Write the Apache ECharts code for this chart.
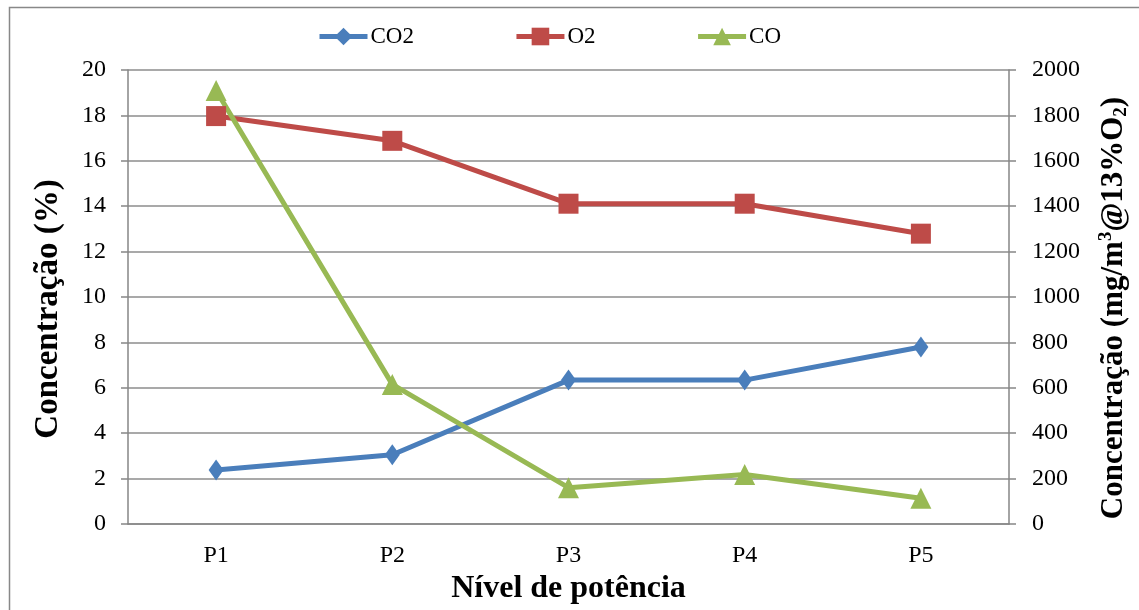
<!DOCTYPE html>
<html>
<head>
<meta charset="utf-8">
<script src="https://cdn.jsdelivr.net/npm/echarts@6/dist/echarts.min.js"></script>
<style>html,body{margin:0;padding:0;background:#fff;overflow:hidden;}#c{width:1139px;height:610px;}</style>
</head>
<body>
<div id="c"></div>
<script>
const categories = ['P1', 'P2', 'P3', 'P4', 'P5'];
const co2 = [2.38, 3.05, 6.34, 6.34, 7.8];
const o2 = [17.97, 16.88, 14.11, 14.11, 12.79];
const co = [1910, 615, 160, 218, 113];
const leftTicks = { min: 0, max: 20, interval: 2 };
const rightTicks = { min: 0, max: 2000, interval: 200 };

const FONT = '"Liberation Serif", "Times New Roman", serif';
const chart = echarts.init(document.getElementById('c'), null, { width: 1139, height: 610 });
const axisLineStyle = { color: '#868686', width: 1.5 };
chart.setOption({
  backgroundColor: '#fff',
  animation: false,
  textStyle: { fontFamily: FONT },
  graphic: [{
    type: 'rect', shape: { x: 9.5, y: 7.5, width: 1140, height: 620 },
    style: { fill: 'none', stroke: '#888', lineWidth: 1.5 }, silent: true, z: -1
  }],
  legend: {
    top: 20, left: 312, itemGap: 100, itemWidth: 48, itemHeight: 22,
    lineStyle: { width: 5 },
    textStyle: { fontFamily: FONT, fontSize: 23, color: '#000', padding: [0, 0, 0, -2] },
    data: ['CO2', 'O2', 'CO']
  },
  grid: { left: 128, top: 70, width: 883, height: 454, containLabel: false },
  xAxis: {
    type: 'category', data: categories, boundaryGap: true,
    name: 'Nível de potência', nameLocation: 'middle', nameGap: 45,
    nameTextStyle: { fontFamily: FONT, fontSize: 32, fontWeight: 'bold', color: '#000' },
    axisLine: { lineStyle: axisLineStyle },
    axisTick: { show: false },
    axisLabel: { fontFamily: FONT, fontSize: 24, color: '#000', margin: 20 }
  },
  yAxis: [{
    type: 'value', min: leftTicks.min, max: leftTicks.max, interval: leftTicks.interval,
    name: 'Concentração (%)', nameLocation: 'middle', nameGap: 63, nameRotate: 90,
    nameTextStyle: { fontFamily: FONT, fontSize: 33, fontWeight: 'bold', color: '#000', padding: [0, 24, 0, 0] },
    axisLine: { show: true, lineStyle: axisLineStyle },
    axisTick: { show: true, length: 7, lineStyle: axisLineStyle },
    axisLabel: { fontFamily: FONT, fontSize: 24, color: '#000', margin: 22 },
    splitLine: { show: true, lineStyle: { color: '#8c8c8c', width: 1.5 } }
  }, {
    type: 'value', position: 'right', min: rightTicks.min, max: rightTicks.max, interval: rightTicks.interval,
    name: '{a|Concentração (mg/m}{s|3}{a|@13%O}{b|2}{a|)}', nameLocation: 'middle', nameGap: 88, nameRotate: 90,
    nameTextStyle: {
      fontFamily: FONT, fontSize: 31, fontWeight: 'bold', color: '#000', padding: [0, 22, 0, 0],
      rich: {
        a: { fontFamily: FONT, fontSize: 31, fontWeight: 'bold', color: '#000', lineHeight: 34 },
        s: { fontFamily: FONT, fontSize: 19, fontWeight: 'bold', color: '#000', verticalAlign: 'top', lineHeight: 34, padding: [0, 0, 12, 0] },
        b: { fontFamily: FONT, fontSize: 19, fontWeight: 'bold', color: '#000', verticalAlign: 'bottom', lineHeight: 34, padding: [9, 0, 0, 0] }
      }
    },
    axisLine: { show: true, lineStyle: axisLineStyle },
    axisTick: { show: true, length: 7, lineStyle: axisLineStyle },
    axisLabel: { fontFamily: FONT, fontSize: 24, color: '#000', margin: 23, formatter: v => String(v) },
    splitLine: { show: false }
  }],
  series: [{
    name: 'CO2', type: 'line', data: co2, yAxisIndex: 0,
    symbol: 'diamond', symbolSize: [15, 21],
    lineStyle: { color: '#4A7EBB', width: 5 }, itemStyle: { color: '#4A7EBB' }
  }, {
    name: 'O2', type: 'line', data: o2, yAxisIndex: 0,
    symbol: 'rect', symbolSize: [20, 20],
    lineStyle: { color: '#BE4B48', width: 5 }, itemStyle: { color: '#BE4B48' }
  }, {
    name: 'CO', type: 'line', data: co, yAxisIndex: 1,
    symbol: 'triangle', symbolSize: [21, 21],
    lineStyle: { color: '#98B954', width: 5 }, itemStyle: { color: '#98B954' }
  }]
});
</script>
</body>
</html>
